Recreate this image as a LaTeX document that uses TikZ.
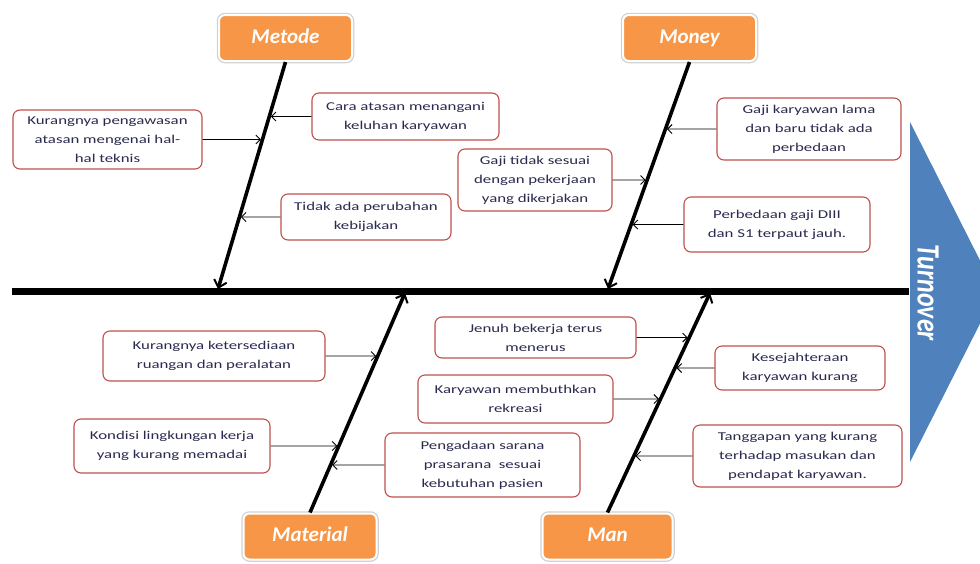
\documentclass[tikz,border=0pt]{standalone}
\usepackage{fontspec}
\setmainfont{Carlito}
\newfontfamily\boxfont[FakeStretch=1.4]{Carlito}
\usetikzlibrary{arrows.meta}
\definecolor{headorange}{HTML}{F79646}
\definecolor{causered}{HTML}{C0504D}
\definecolor{effblue}{HTML}{4F81BD}
\definecolor{txt}{HTML}{2A2A4E}
\begin{document}
\begin{tikzpicture}[x=1pt,y=-1pt,
  head/.style={rounded corners=6pt, fill=headorange, draw=white, line width=2pt,
    preaction={draw=black!18, line width=4.5pt}, text=white,
    font=\fontsize{21}{24}\selectfont\bfseries\itshape, inner sep=0pt,
    text height=15pt, text depth=5pt},
  cause/.style={rounded corners=7pt, fill=white, draw=causered, line width=1.1pt,
    text=txt, font=\boxfont\fontsize{12}{19}\selectfont, align=center, inner sep=0pt},
  bone/.style={line width=3.6pt, -{Straight Barb[length=7pt,width=13pt,line width=2pt]}},
  spine/.style={line width=7pt},
  link/.style={line width=0.9pt, shorten >=1.5pt, -{Straight Barb[length=4.5pt,width=9pt]}}
]
\useasboundingbox (0,0) rectangle (980,563);
\fill[white] (0,0) rectangle (980,563);

% effect (head of the fish)
\begin{scope}
  \clip (0,0) rectangle (980,563);
  \fill[effblue] (910,122) -- (996,292) -- (910,462) -- cycle;
\end{scope}
\node[rotate=-90, text=white, font=\fontsize{26}{26}\selectfont\bfseries\itshape, inner sep=0pt]
  (effect) at (928,293) {\scalebox{1}[1.25]{Turnover}};

% spine
\coordinate (tail) at (12,291);
\coordinate (headpt) at (909,291);
\draw[spine] (tail) -- (headpt);

% category heads
\node[head, minimum width=133pt, minimum height=46pt] (metode) at (285.5,38) {Metode};
\node[head, minimum width=133pt, minimum height=46pt] (money) at (689.5,38) {Money};
\node[head, minimum width=133pt, minimum height=46pt] (material) at (310,536.5) {Material};
\node[head, minimum width=130pt, minimum height=46pt] (man) at (607.5,536.5) {Man};

% bone ends on spine
\coordinate (mt) at (218,289);
\coordinate (mo) at (608,289);
\coordinate (ma) at (405,293);
\coordinate (mn) at (710,293);

\draw[bone] (metode.south) -- (mt);
\draw[bone] (money.south) -- (mo);
\draw[bone] (material.north) -- (ma);
\draw[bone] (man.north) -- (mn);

% causes
\node[cause, minimum width=189pt, minimum height=59pt] (k1) at (107.5,139.5)
  {Kurangnya pengawasan\\atasan mengenai hal-\\hal teknis};
\node[cause, minimum width=187pt, minimum height=47pt] (k2) at (405.5,116.5)
  {Cara atasan menangani\\keluhan karyawan};
\node[cause, minimum width=170pt, minimum height=46pt] (k3) at (366,217)
  {Tidak ada perubahan\\kebijakan};
\node[cause, minimum width=154pt, minimum height=62pt] (k4) at (535,180)
  {Gaji tidak sesuai\\dengan pekerjaan\\yang dikerjakan};
\node[cause, minimum width=184pt, minimum height=62pt] (k5) at (809,129)
  {Gaji karyawan lama\\dan baru tidak ada\\perbedaan};
\node[cause, minimum width=186pt, minimum height=55pt] (k6) at (777,224.5)
  {Perbedaan gaji DIII\\dan S1 terpaut jauh.};
\node[cause, minimum width=222pt, minimum height=50pt] (k7) at (214,356)
  {Kurangnya ketersediaan\\ruangan dan peralatan};
\node[cause, minimum width=196pt, minimum height=54pt] (k8) at (172,446)
  {Kondisi lingkungan kerja\\yang kurang memadai};
\node[cause, minimum width=195pt, minimum height=64pt] (k9) at (482.5,465)
  {Pengadaan sarana\\prasarana~~sesuai\\kebutuhan pasien};
\node[cause, minimum width=201pt, minimum height=41pt] (k10) at (535.5,337.5)
  {Jenuh bekerja terus\\menerus};
\node[cause, minimum width=170pt, minimum height=44pt] (k11) at (800,368)
  {Kesejahteraan\\karyawan kurang};
\node[cause, minimum width=195pt, minimum height=48pt] (k12) at (515.5,399)
  {Karyawan membuthkan\\rekreasi};
\node[cause, minimum width=209pt, minimum height=62pt] (k13) at (797.5,456)
  {Tanggapan yang kurang\\terhadap masukan dan\\pendapat karyawan.};

% cause arrows onto bones
\draw[link] (k1.east) -- (intersection of k1.west--k1.east and metode.south--mt);
\draw[link] (k2.west) -- (intersection of k2.west--k2.east and metode.south--mt);
\draw[link] (k3.west) -- (intersection of k3.west--k3.east and metode.south--mt);
\draw[link] (k4.east) -- (intersection of k4.west--k4.east and money.south--mo);
\draw[link] (k5.west) -- (intersection of k5.west--k5.east and money.south--mo);
\draw[link] (k6.west) -- (intersection of k6.west--k6.east and money.south--mo);
\draw[link] (k7.east) -- (intersection of k7.west--k7.east and material.north--ma);
\draw[link] (k8.east) -- (intersection of k8.west--k8.east and material.north--ma);
\draw[link] (k9.west) -- (intersection of k9.west--k9.east and material.north--ma);
\draw[link] (k10.east) -- (intersection of k10.west--k10.east and man.north--mn);
\draw[link] (k11.west) -- (intersection of k11.west--k11.east and man.north--mn);
\draw[link] (k12.east) -- (intersection of k12.west--k12.east and man.north--mn);
\draw[link] (k13.west) -- (intersection of k13.west--k13.east and man.north--mn);
\end{tikzpicture}
\end{document}
